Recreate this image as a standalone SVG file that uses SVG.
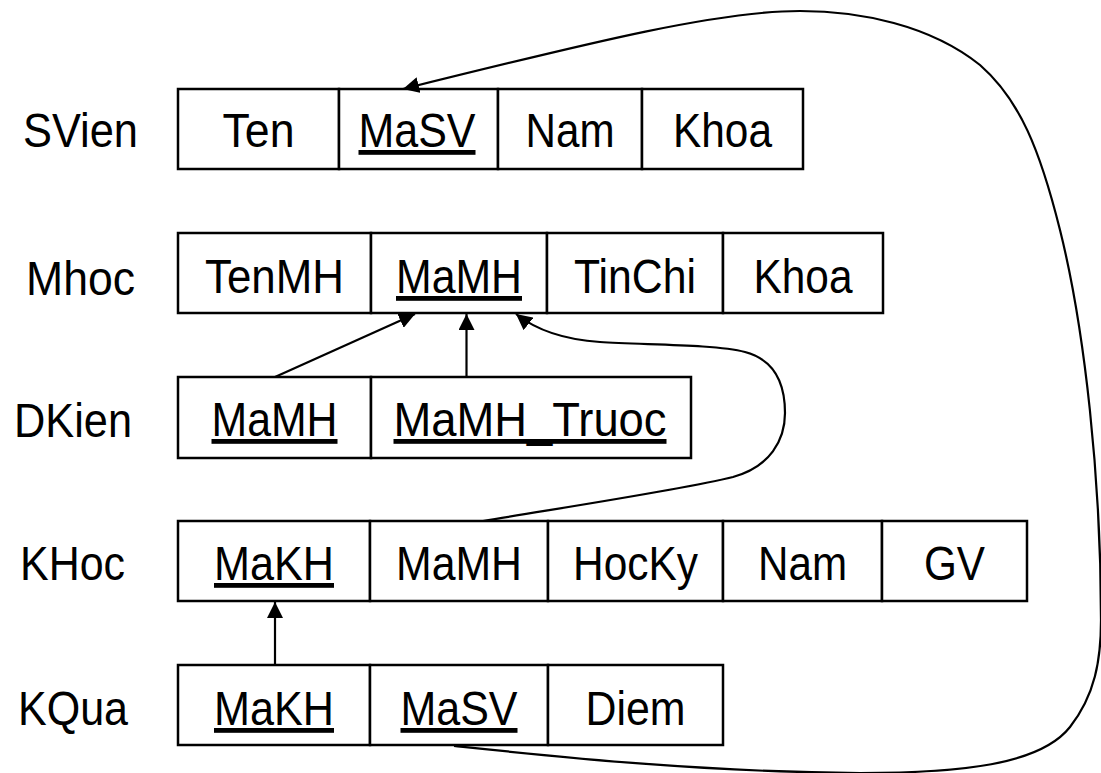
<svg xmlns="http://www.w3.org/2000/svg" width="1101" height="773" viewBox="0 0 1101 773">
<style>
.cell{fill:#fff;stroke:#000;stroke-width:2.5}
.t{font-family:"Liberation Sans",Arial,sans-serif;font-size:48px;fill:#000;text-anchor:middle}
.lbl{font-family:"Liberation Sans",Arial,sans-serif;font-size:48px;fill:#000}
.u{text-decoration:underline}
.c{fill:none;stroke:#000;stroke-width:2.2}
</style>
<defs>
<marker id="ah" markerUnits="userSpaceOnUse" markerWidth="17" markerHeight="16" refX="16" refY="8" orient="auto" viewBox="0 0 17 16">
<path d="M0,0 L16,8 L0,16 z" fill="#000"/>
</marker>
</defs>
<rect width="1101" height="773" fill="#fff"/>

<g id="SVien">
<text class="lbl" x="23" y="147" textLength="115" lengthAdjust="spacingAndGlyphs">SVien</text>
<rect class="cell" x="178" y="89" width="161" height="80"/>
<rect class="cell" x="339" y="89" width="159" height="80"/>
<rect class="cell" x="498" y="89" width="144" height="80"/>
<rect class="cell" x="642" y="89" width="161" height="80"/>
<text class="t" x="258.5" y="147" textLength="72" lengthAdjust="spacingAndGlyphs">Ten</text>
<text class="t u" x="417" y="147" textLength="117" lengthAdjust="spacingAndGlyphs">MaSV</text>
<text class="t" x="570" y="147" textLength="89" lengthAdjust="spacingAndGlyphs">Nam</text>
<text class="t" x="722.5" y="147" textLength="99" lengthAdjust="spacingAndGlyphs">Khoa</text>
</g>

<g id="Mhoc">
<text class="lbl" x="26" y="295" textLength="109" lengthAdjust="spacingAndGlyphs">Mhoc</text>
<rect class="cell" x="178" y="233" width="193" height="80"/>
<rect class="cell" x="371" y="233" width="176" height="80"/>
<rect class="cell" x="547" y="233" width="176" height="80"/>
<rect class="cell" x="723" y="233" width="160" height="80"/>
<text class="t" x="274.5" y="293" textLength="139" lengthAdjust="spacingAndGlyphs">TenMH</text>
<text class="t u" x="459" y="293" textLength="126" lengthAdjust="spacingAndGlyphs">MaMH</text>
<text class="t" x="635" y="293" textLength="122" lengthAdjust="spacingAndGlyphs">TinChi</text>
<text class="t" x="803" y="293" textLength="99" lengthAdjust="spacingAndGlyphs">Khoa</text>
</g>

<g id="DKien">
<text class="lbl" x="14" y="437" textLength="118" lengthAdjust="spacingAndGlyphs">DKien</text>
<rect class="cell" x="178" y="377" width="193" height="81"/>
<rect class="cell" x="371" y="377" width="320" height="81"/>
<text class="t u" x="274.5" y="436" textLength="126" lengthAdjust="spacingAndGlyphs">MaMH</text>
<text class="t u" x="530" y="436" textLength="273" lengthAdjust="spacingAndGlyphs">MaMH_Truoc</text>
</g>

<g id="KHoc">
<text class="lbl" x="20" y="580" textLength="105" lengthAdjust="spacingAndGlyphs">KHoc</text>
<rect class="cell" x="178" y="521" width="192" height="80"/>
<rect class="cell" x="370" y="521" width="178" height="80"/>
<rect class="cell" x="548" y="521" width="175" height="80"/>
<rect class="cell" x="723" y="521" width="159" height="80"/>
<rect class="cell" x="882" y="521" width="145" height="80"/>
<text class="t u" x="274" y="580" textLength="120" lengthAdjust="spacingAndGlyphs">MaKH</text>
<text class="t" x="459" y="580" textLength="126" lengthAdjust="spacingAndGlyphs">MaMH</text>
<text class="t" x="635.5" y="580" textLength="125" lengthAdjust="spacingAndGlyphs">HocKy</text>
<text class="t" x="802.5" y="580" textLength="89" lengthAdjust="spacingAndGlyphs">Nam</text>
<text class="t" x="954.5" y="580" textLength="61" lengthAdjust="spacingAndGlyphs">GV</text>
</g>

<g id="KQua">
<text class="lbl" x="18" y="725" textLength="110" lengthAdjust="spacingAndGlyphs">KQua</text>
<rect class="cell" x="178" y="665" width="192" height="80"/>
<rect class="cell" x="370" y="665" width="178" height="80"/>
<rect class="cell" x="548" y="665" width="175" height="80"/>
<text class="t u" x="274" y="725" textLength="120" lengthAdjust="spacingAndGlyphs">MaKH</text>
<text class="t u" x="459" y="725" textLength="117" lengthAdjust="spacingAndGlyphs">MaSV</text>
<text class="t" x="635.5" y="725" textLength="100" lengthAdjust="spacingAndGlyphs">Diem</text>
</g>

<g id="connectors">
<path class="c" marker-end="url(#ah)" d="M275 665 L275 602"/>
<path class="c" marker-end="url(#ah)" d="M466.5 377 L466.5 314"/>
<path class="c" marker-end="url(#ah)" d="M275 377 L415 314"/>
<path class="c" marker-end="url(#ah)" d="M483 521 C560 508 680 490 733 477 C770 467 785 440 785 413 C785 385 775 360 745 352 C715 344 640 345 600 342 C570 340 540 333 516 314"/>
<path class="c" marker-end="url(#ah)" d="M454 746 C560 757 700 772 860 773 C960 773 1040 765 1070 727 C1095 695 1101 660 1101 620 C1101 480 1085 330 1060 230 C1040 150 1020 100 980 65 C930 25 860 11 800 11 C720 11 600 40 403 89"/>
</g>
</svg>
